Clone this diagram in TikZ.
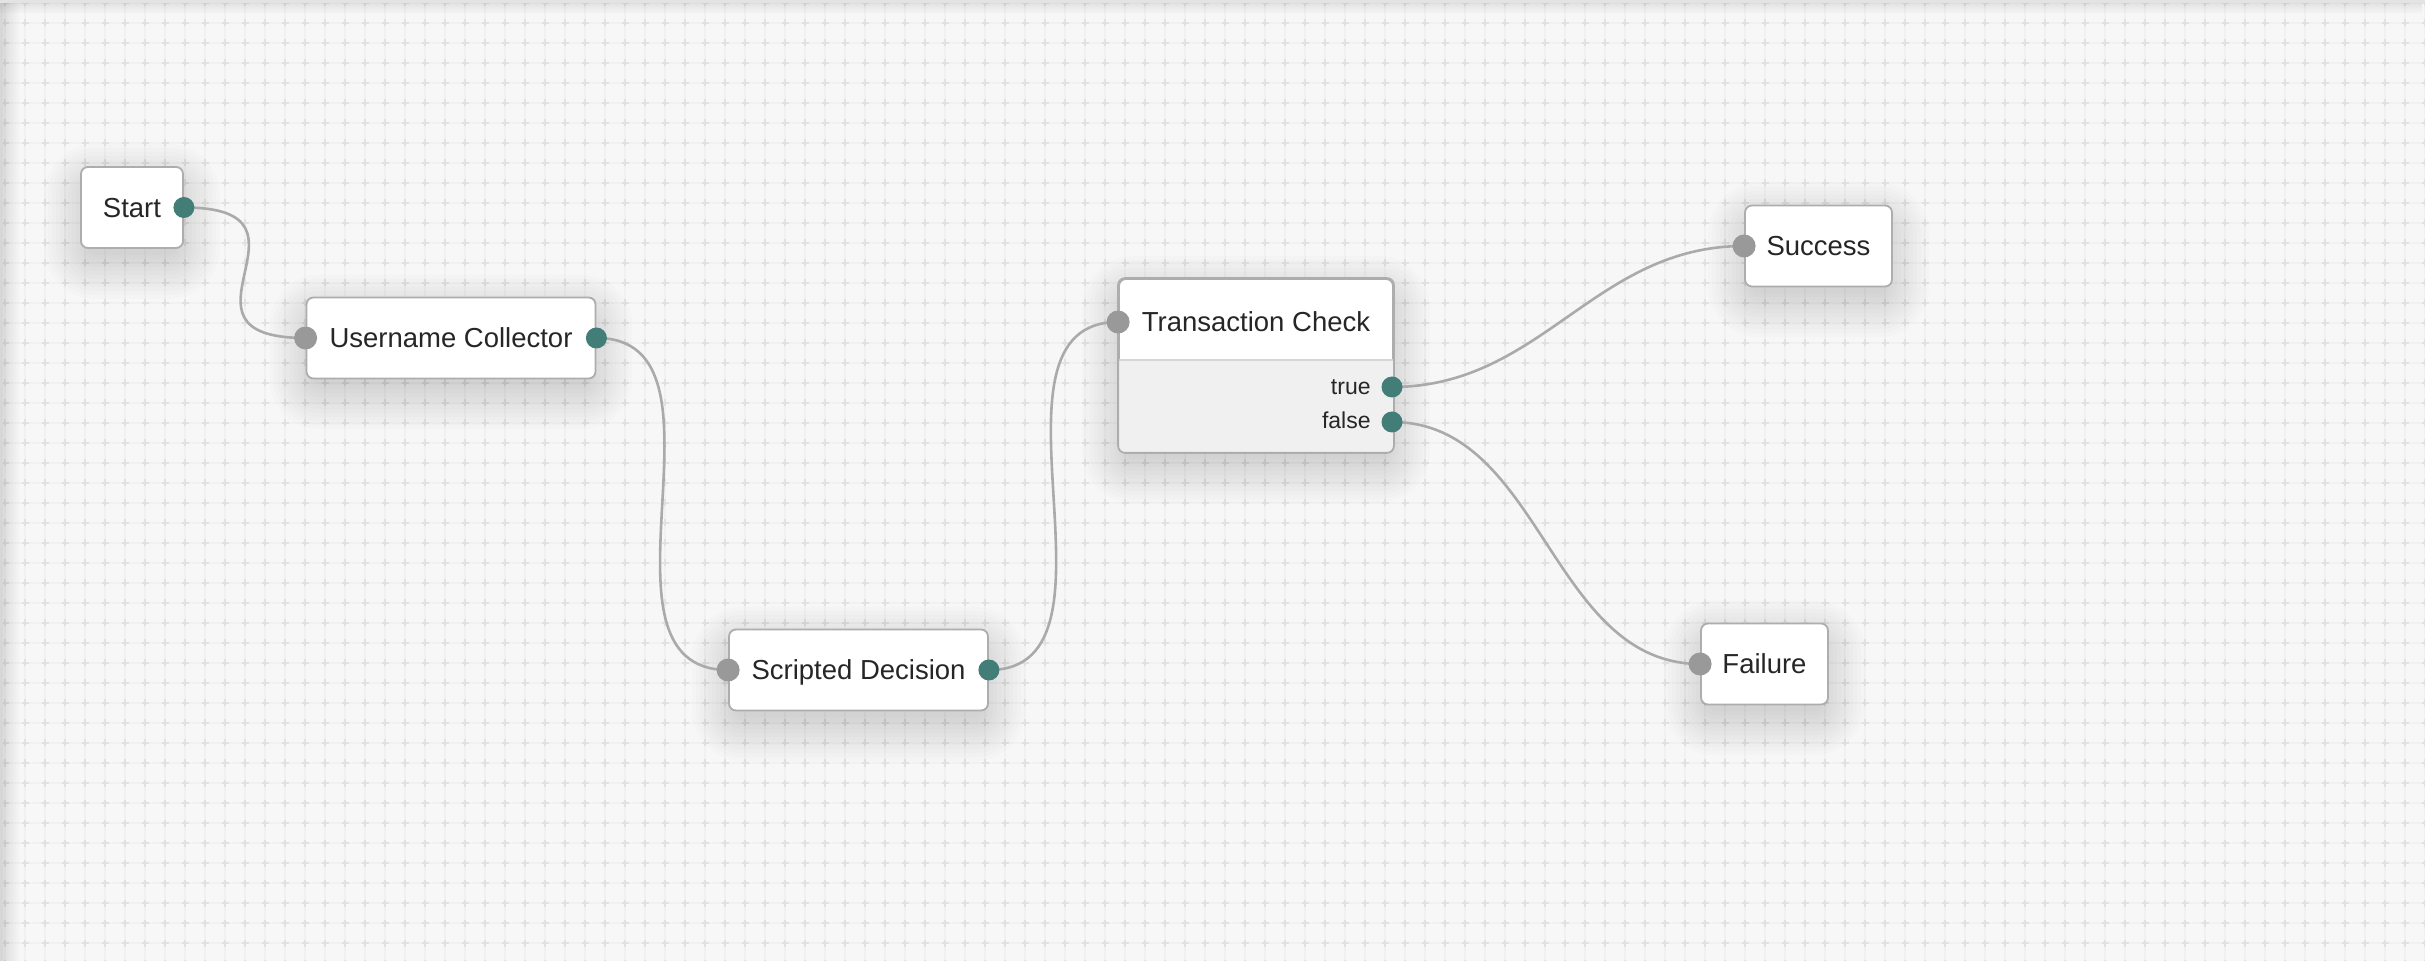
\documentclass[tikz,border=0pt]{standalone}
\usepackage{fontspec}
\setmainfont{Liberation Sans}
\usetikzlibrary{fadings}
\definecolor{canvas}{HTML}{F7F7F7}
\definecolor{gridline}{HTML}{F1F1F1}
\definecolor{gridmark}{HTML}{E1E1E1}
\definecolor{boxline}{HTML}{ADADAD}
\definecolor{sepline}{HTML}{D6D6D6}
\definecolor{bodyfill}{HTML}{F0F0F0}
\definecolor{wiregrey}{HTML}{AAAAAA}
\definecolor{outteal}{HTML}{427E77}
\definecolor{ingrey}{HTML}{999999}
\definecolor{ink}{HTML}{262626}
\pgfdeclarelayer{bg}
\pgfdeclarelayer{shade}
\pgfdeclarelayer{front}
\pgfsetlayers{bg,shade,main,front}
\newcommand\nodeshade[1]{%
  \begin{pgfonlayer}{shade}
    \foreach \r in {0,2,...,22}
      \fill[black,opacity=0.012,rounded corners=3.5pt+\r*1pt]
        ([xshift=-\r*1pt+4pt,yshift=-\r*1pt-3pt]#1.south west) rectangle ([xshift=\r*1pt-4pt,yshift=\r*1pt-11pt]#1.north east);
  \end{pgfonlayer}}

\begin{document}
\begin{tikzpicture}[x=0.5pt,y=-0.5pt,
    boxtext/.style={text=ink,font=\fontsize{13.75pt}{16pt}\selectfont,text height=9.85pt,text depth=0pt,inner sep=0pt},
    box/.style={boxtext,draw=boxline,line width=0.9pt,fill=white,rounded corners=3.5pt,minimum height=40.5pt},
    inport/.style={circle,fill=ingrey,minimum size=11.5pt,inner sep=0pt},
    outport/.style={circle,fill=outteal,minimum size=10.5pt,inner sep=0pt},
    wire/.style={draw=wiregrey,line width=1.3pt},
    portlabel/.style={text=ink,font=\fontsize{11.5pt}{13pt}\selectfont,inner sep=0pt,anchor=base east}]
  \useasboundingbox (0,0) rectangle (2425,961);
  \begin{pgfonlayer}{bg}
    \fill[canvas] (0,0) rectangle (2425,961);
    \foreach \gx in {5,25,...,2425} \draw[gridline,line width=0.8pt] (\gx,0) -- (\gx,961);
    \foreach \gy in {3,23,...,961} \draw[gridline,line width=0.8pt] (0,\gy) -- (2425,\gy);
    \foreach \gy in {3,23,...,961} \draw[gridmark,line width=0.8pt,dash pattern=on 3.5pt off 6.5pt] (1.5,\gy) -- (2425,\gy);
    \foreach \gx in {5,25,...,2425} \draw[gridmark,line width=0.8pt,dash pattern=on 3.5pt off 6.5pt] (\gx,-0.5) -- (\gx,961);
    \fill[black,opacity=0.12,path fading=east] (0,0) rectangle (20,961);
    \fill[black!16] (0,0) rectangle (2.5,961);
    \fill[black,opacity=0.1,path fading=south] (0,0) rectangle (2425,14);
    \fill[black!11] (0,0) rectangle (2425,3);
  \end{pgfonlayer}

  \node[box,minimum width=51pt] (start) at (132,207.5) {Start};
  \node[box,minimum width=144.5pt] (collector) at (451,338) {Username Collector};
  \node[box,minimum width=129.5pt] (scripted) at (858.5,670) {Scripted Decision};
  \node[box,minimum width=73.5pt] (success) at (1818.5,246) {Success};
  \node[box,minimum width=63.5pt] (failure) at (1764.5,664) {Failure};

  \node[box,minimum width=137pt,minimum height=86.5pt] (check) at (1256,365.5) {};
  \begin{scope}
    \clip[rounded corners=3.5pt] (check.north west) rectangle (check.south east);
    \fill[bodyfill] (check.south west) rectangle (1393,360);
  \end{scope}
  \draw[sepline,line width=0.8pt] (check.west |- 0,360) -- (check.east |- 0,360);
  \draw[boxline,line width=0.9pt,rounded corners=3.5pt] (check.north west) rectangle (check.south east);
  \node[boxtext] (checktitle) at (1256,322) {Transaction Check};
  \node[portlabel] (truelabel) at (1371,395) {true};
  \node[portlabel] (falselabel) at (1371,429) {false};

  \foreach \n in {start,collector,scripted,success,failure,check} \nodeshade{\n};

  \begin{pgfonlayer}{front}
    \node[outport] (startout) at (start.east) {};
    \node[inport] (collectorin) at (collector.west) {};
    \node[outport] (collectorout) at (collector.east) {};
    \node[inport] (scriptedin) at (scripted.west) {};
    \node[outport] (scriptedout) at (scripted.east) {};
    \node[inport] (checkin) at (check.west |- checktitle) {};
    \node[outport] (checktrue) at (1392,387) {};
    \node[outport] (checkfalse) at (1392,422) {};
    \node[inport] (successin) at (success.west) {};
    \node[inport] (failurein) at (failure.west) {};
  \end{pgfonlayer}

  \draw[wire] (startout.center) .. controls +(150,0) and +(-150,0) .. (collectorin.center);
  \draw[wire] (collectorout.center) .. controls +(150,0) and +(-150,0) .. (scriptedin.center);
  \draw[wire] (scriptedout.center) .. controls +(150,0) and +(-150,0) .. (checkin.center);
  \draw[wire] (checktrue.center) .. controls +(150,0) and +(-150,0) .. (successin.center);
  \draw[wire] (checkfalse.center) .. controls +(150,0) and +(-150,0) .. (failurein.center);
\end{tikzpicture}
\end{document}
